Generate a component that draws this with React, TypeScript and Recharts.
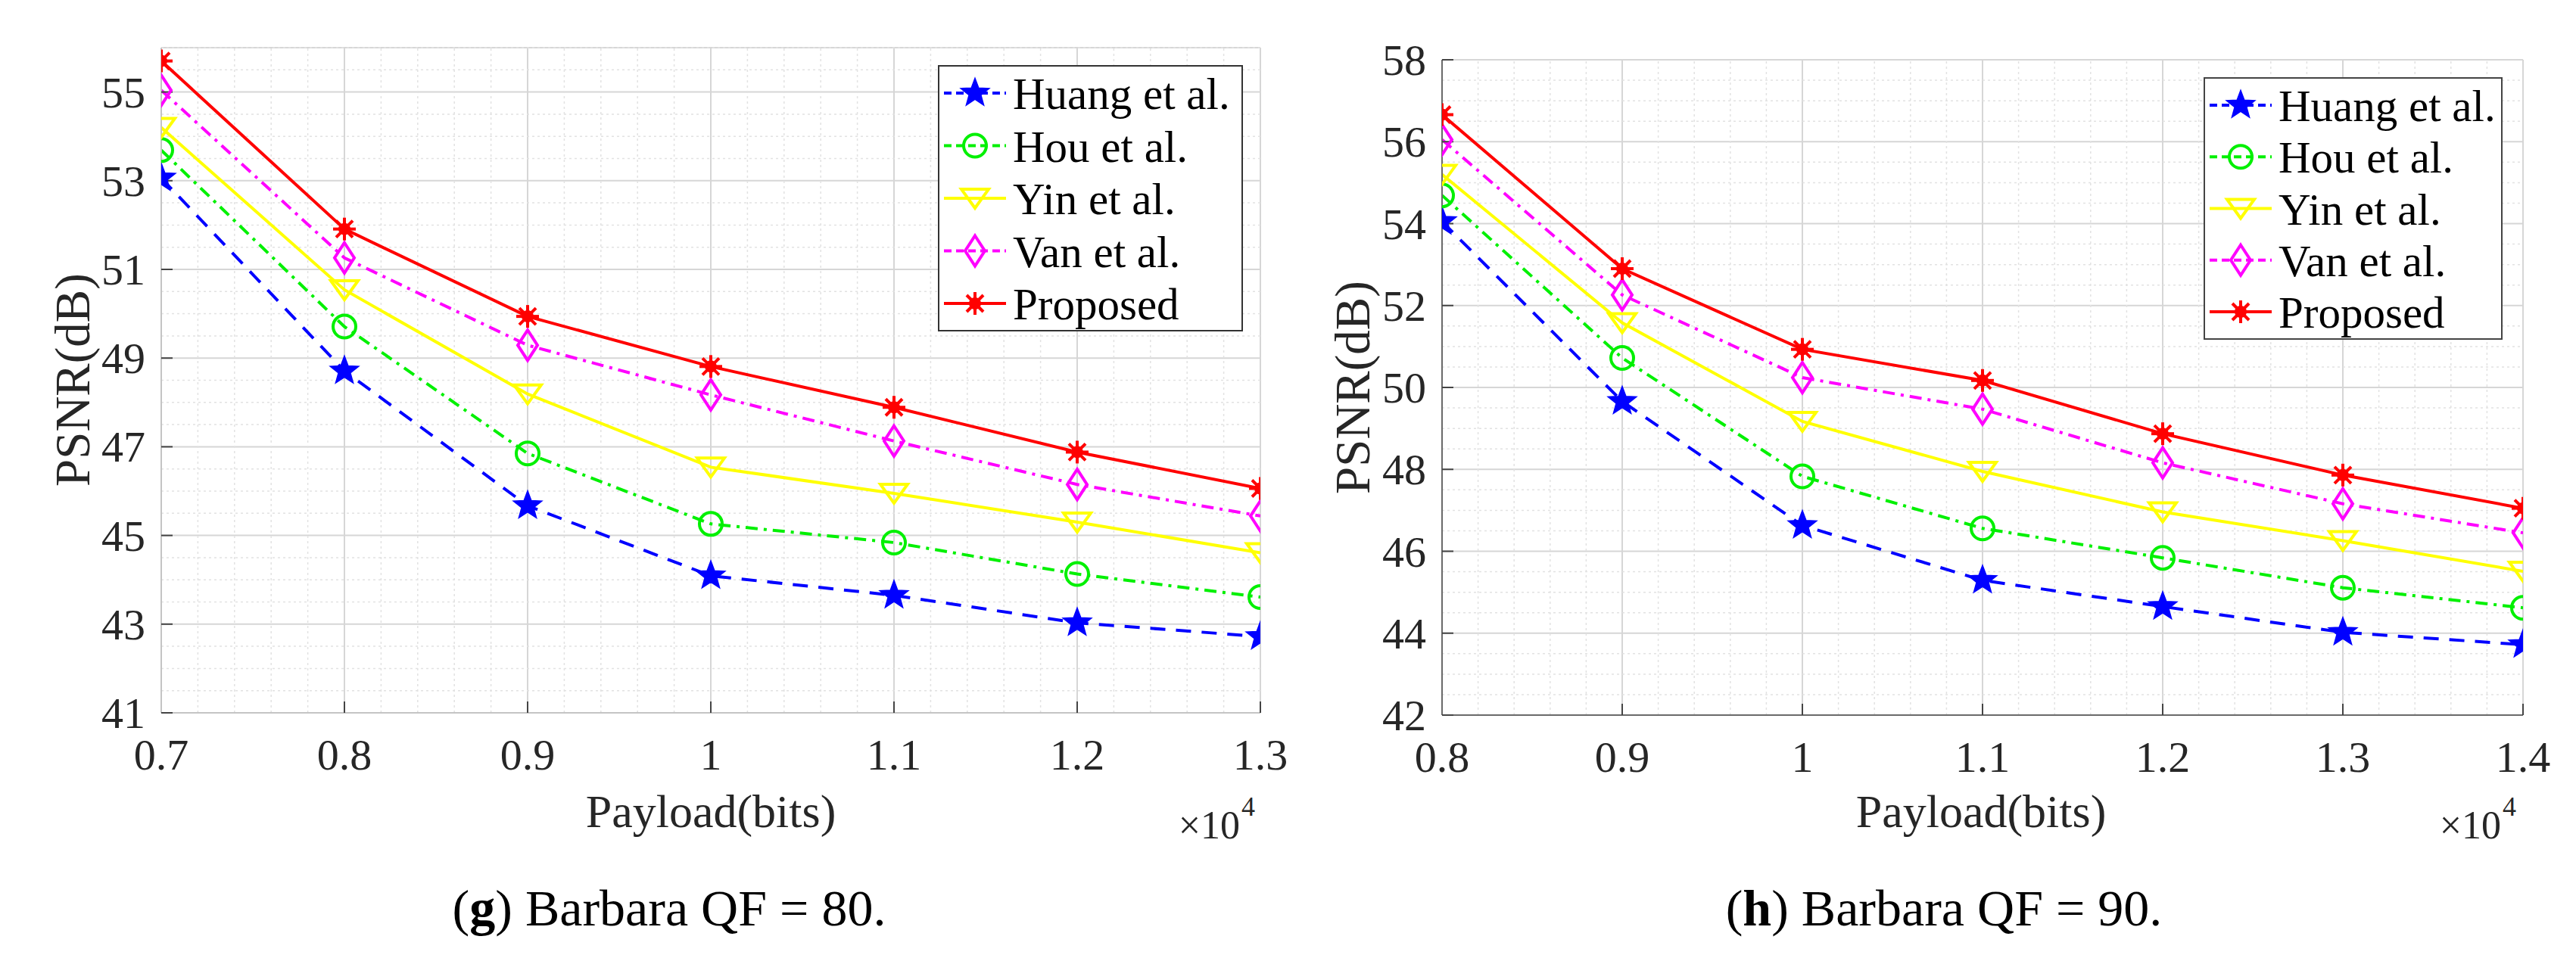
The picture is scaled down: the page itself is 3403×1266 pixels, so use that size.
import React from 'react';
import { LineChart, Line, XAxis, YAxis, CartesianGrid, ReferenceLine, Legend } from 'recharts';

const FONT = "'Liberation Serif', 'Times New Roman', serif";

// (g) Barbara QF = 80
const payload80 = [0.7, 0.8, 0.9, 1.0, 1.1, 1.2, 1.3];
const huang80 = [53.06, 48.71, 45.67, 44.09, 43.65, 43.03, 42.72];
const hou80 = [53.69, 49.71, 46.85, 45.26, 44.84, 44.13, 43.61];
const yin80 = [54.2, 50.54, 48.19, 46.54, 45.95, 45.3, 44.61];
const van80 = [55.04, 51.26, 49.29, 48.17, 47.13, 46.15, 45.44];
const proposed80 = [55.7, 51.91, 49.94, 48.81, 47.89, 46.88, 46.06];
const xTicks80 = [0.7, 0.8, 0.9, 1.0, 1.1, 1.2, 1.3];
const yTicks80 = [41, 43, 45, 47, 49, 51, 53, 55];

// (h) Barbara QF = 90
const payload90 = [0.8, 0.9, 1.0, 1.1, 1.2, 1.3, 1.4];
const huang90 = [54.05, 49.66, 46.63, 45.29, 44.65, 44.02, 43.72];
const hou90 = [54.69, 50.72, 47.83, 46.56, 45.84, 45.11, 44.62];
const yin90 = [55.2, 51.58, 49.17, 47.95, 46.96, 46.26, 45.51];
const van90 = [56.05, 52.26, 50.24, 49.47, 48.16, 47.16, 46.45];
const proposed90 = [56.66, 52.9, 50.93, 50.17, 48.87, 47.86, 47.05];
const xTicks90 = [0.8, 0.9, 1.0, 1.1, 1.2, 1.3, 1.4];
const yTicks90 = [42, 44, 46, 48, 50, 52, 54, 56, 58];

const SERIES = [
  { key: 'huang', name: 'Huang et al.', color: '#0000ff', dash: '20 14', marker: 'star' },
  { key: 'hou', name: 'Hou et al.', color: '#00f000', dash: '16 8 4 8', marker: 'circle' },
  { key: 'yin', name: 'Yin et al.', color: '#ffff00', dash: undefined, marker: 'tri' },
  { key: 'van', name: 'Van et al.', color: '#ff00ff', dash: '16 8 4 8', marker: 'diamond' },
  { key: 'proposed', name: 'Proposed', color: '#ff0000', dash: undefined, marker: 'asterisk' },
];

function buildRows(payload: number[], cols: Record<string, number[]>) {
  return payload.map((p, i) => {
    const row: Record<string, number> = { payload: p };
    Object.keys(cols).forEach((k) => (row[k] = cols[k][i]));
    return row;
  });
}

const rows80 = buildRows(payload80, { huang: huang80, hou: hou80, yin: yin80, van: van80, proposed: proposed80 });
const rows90 = buildRows(payload90, { huang: huang90, hou: hou90, yin: yin90, van: van90, proposed: proposed90 });

// minor grid positions (MATLAB minor grid)
function steps(from: number, to: number, step: number) {
  const out: number[] = [];
  for (let v = from; v <= to + 1e-9; v += step) out.push(Math.round(v * 1000) / 1000);
  return out;
}
const isMajorX = (v: number) => Math.abs(v * 10 - Math.round(v * 10)) < 1e-6;

function Marker({ kind, cx, cy, color }: { kind: string; cx: number; cy: number; color: string }) {
  if (kind === 'star') {
    const pts: string[] = [];
    for (let i = 0; i < 10; i++) {
      const r = i % 2 === 0 ? 19 : 8;
      const a = -Math.PI / 2 + (i * Math.PI) / 5;
      pts.push(`${cx + r * Math.cos(a)},${cy + r * Math.sin(a)}`);
    }
    return <polygon points={pts.join(' ')} fill={color} stroke={color} strokeWidth={2} />;
  }
  if (kind === 'circle') return <circle cx={cx} cy={cy} r={15} fill="none" stroke={color} strokeWidth={4} />;
  if (kind === 'tri')
    return (
      <polygon
        points={`${cx - 18},${cy - 12} ${cx + 18},${cy - 12} ${cx},${cy + 13}`}
        fill="none"
        stroke={color}
        strokeWidth={4}
      />
    );
  if (kind === 'diamond')
    return (
      <polygon
        points={`${cx},${cy - 20} ${cx + 13},${cy} ${cx},${cy + 20} ${cx - 13},${cy}`}
        fill="none"
        stroke={color}
        strokeWidth={4}
      />
    );
  const d = 15;
  const e = 11;
  return (
    <g stroke={color} strokeWidth={4}>
      <line x1={cx - d} y1={cy} x2={cx + d} y2={cy} />
      <line x1={cx} y1={cy - d} x2={cx} y2={cy + d} />
      <line x1={cx - e} y1={cy - e} x2={cx + e} y2={cy + e} />
      <line x1={cx - e} y1={cy + e} x2={cx + e} y2={cy - e} />
      <circle cx={cx} cy={cy} r={6} fill={color} />
    </g>
  );
}

function LegendBox({ w, h, border }: { w: number; h: number; border: string }) {
  const top = 37;
  const gap = (h - 2 * top) / 4;
  return (
    <svg width={w} height={h} style={{ display: 'block' }}>
      <rect x={1} y={1} width={w - 2} height={h - 2} fill="#fff" stroke={border} strokeWidth={2} />
      {SERIES.map((s, i) => {
        const y = top + i * gap;
        return (
          <g key={s.key}>
            <line x1={8} x2={90} y1={y} y2={y} stroke={s.color} strokeWidth={4} strokeDasharray={s.dash ? '10 6' : undefined} />
            <Marker kind={s.marker} cx={49} cy={y} color={s.color} />
            <text x={99} y={y + 21} style={{ fontFamily: FONT, fontSize: 59 }} fill="#000">
              {s.name}
            </text>
          </g>
        );
      })}
    </svg>
  );
}

const H = 1266;
const YW = 100;
const XH = 80;
const fmt = (v: number) => String(Math.round(v * 10) / 10);
const TICK_FONT = { fontFamily: FONT, fontSize: 58 };

function XTick({ x, y, payload }: any) {
  return (
    <text x={x} y={y + 40} textAnchor="middle" fill="#262626" style={TICK_FONT}>
      {fmt(payload.value)}
    </text>
  );
}

function YTick({ x, y, payload }: any) {
  return (
    <text x={x} y={y + 20} textAnchor="end" fill="#262626" style={TICK_FONT}>
      {fmt(payload.value)}
    </text>
  );
}

type PanelProps = {
  left: number;
  width: number;
  plot: { l: number; r: number; t: number; b: number };
  rows: Record<string, number>[];
  xDomain: [number, number];
  xTicks: number[];
  yDomain: [number, number];
  yTicks: number[];
  near: string;
  far: string;
  legend: { x: number; y: number; w: number; h: number; border: string };
};

function Panel({ left, width, plot, rows, xDomain, xTicks, yDomain, yTicks, near, far, legend }: PanelProps) {
  const margin = { top: plot.t, left: plot.l - YW, right: width - plot.r, bottom: H - plot.b - XH };
  const minorX = steps(xDomain[0], xDomain[1], 0.02).filter((v) => !isMajorX(v));
  const minorY = steps(yDomain[0], yDomain[1], 0.5).filter((v) => !yTicks.includes(v));
  const tickLine = { stroke: '#444', strokeWidth: 2 };
  return (
    <div style={{ position: 'absolute', left, top: 0 }}>
      <LineChart width={width} height={H} data={rows} margin={margin} style={{ fontFamily: FONT }}>
        {minorX.map((v) => (
          <ReferenceLine key={'mx' + v} x={v} stroke="#e2e2e2" strokeWidth={1.5} strokeDasharray="3 4" />
        ))}
        {minorY.map((v) => (
          <ReferenceLine key={'my' + v} y={v} stroke="#e2e2e2" strokeWidth={1.5} strokeDasharray="3 4" />
        ))}
        <CartesianGrid stroke="#d6d6d6" strokeWidth={2} />
        <XAxis
          dataKey="payload"
          type="number"
          domain={xDomain}
          ticks={xTicks}
          interval={0}
          allowDataOverflow
          tick={<XTick />}
          tickSize={-15}
          tickMargin={50}
          height={XH}
          axisLine={{ stroke: near, strokeWidth: 2 }}
          tickLine={tickLine}
        />
        <XAxis
          xAxisId="top"
          orientation="top"
          dataKey="payload"
          type="number"
          domain={xDomain}
          ticks={xTicks}
          interval={0}
          allowDataOverflow
          tick={false}
          tickSize={-15}
          height={0}
          axisLine={{ stroke: far, strokeWidth: 2 }}
          tickLine={tickLine}
        />
        <YAxis
          type="number"
          domain={yDomain}
          ticks={yTicks}
          interval={0}
          allowDataOverflow
          tick={<YTick />}
          tickSize={-15}
          tickMargin={36}
          width={YW}
          axisLine={{ stroke: near, strokeWidth: 2 }}
          tickLine={tickLine}
        />
        <YAxis
          yAxisId="right"
          orientation="right"
          type="number"
          domain={yDomain}
          ticks={yTicks}
          interval={0}
          allowDataOverflow
          tick={false}
          tickSize={-15}
          width={0}
          axisLine={{ stroke: far, strokeWidth: 2 }}
          tickLine={tickLine}
        />
        {SERIES.map((s) => (
          <Line
            key={s.key}
            type="linear"
            dataKey={s.key}
            name={s.name}
            stroke={s.color}
            strokeWidth={4}
            strokeDasharray={s.dash}
            dot={(p: any) => <Marker key={s.key + p.index} kind={s.marker} cx={p.cx} cy={p.cy} color={s.color} />}
            activeDot={false}
            isAnimationActive={false}
          />
        ))}
        <Legend
          layout="vertical"
          align="center"
          verticalAlign="middle"
          wrapperStyle={{ left: legend.x, top: legend.y, width: legend.w, height: legend.h }}
          content={() => <LegendBox w={legend.w} h={legend.h} border={legend.border} />}
        />
      </LineChart>
    </div>
  );
}

function Titles() {
  const t = { fontFamily: FONT };
  const panels = [
    { yl: [96, 502], xl: [939, 1093], exp: 1662, cap: [884, 1223], letter: 'g', qf: '80' },
    { yl: [1787, 512], xl: [2617, 1093], exp: 3328, cap: [2568, 1223], letter: 'h', qf: '90' },
  ];
  return (
    <svg width={3403} height={1266} style={{ position: 'absolute', left: 0, top: 0, pointerEvents: 'none' }}>
      {panels.map((p) => (
        <g key={p.letter}>
          <text
            style={{ ...t, fontSize: 65 }}
            fill="#262626"
            textAnchor="middle"
            transform={`translate(${p.yl[0] + 22},${p.yl[1]}) rotate(-90)`}
          >
            PSNR(dB)
          </text>
          <text style={{ ...t, fontSize: 62 }} fill="#262626" x={p.xl[0]} y={p.xl[1]} textAnchor="middle">
            Payload(bits)
          </text>
          <text style={{ ...t, fontSize: 52 }} fill="#262626" x={p.exp - 24} y={1108} textAnchor="end">
            ×10
          </text>
          <text style={{ ...t, fontSize: 36 }} fill="#262626" x={p.exp - 22} y={1078} textAnchor="start">
            4
          </text>
          <text style={{ ...t, fontSize: 68 }} fill="#000" x={p.cap[0]} y={p.cap[1]} textAnchor="middle">
            (<tspan fontWeight="bold">{p.letter}</tspan>) Barbara QF = {p.qf}.
          </text>
        </g>
      ))}
    </svg>
  );
}

export default function App() {
  return (
    <div
      style={{
        position: 'absolute',
        left: 0,
        top: 0,
        width: 3403,
        height: 1266,
        background: '#fff',
        fontFamily: FONT,
      }}
    >
      <Panel
        left={0}
        width={1700}
        plot={{ l: 213, r: 1665, t: 63, b: 942 }}
        rows={rows80}
        xDomain={[0.7, 1.3]}
        xTicks={xTicks80}
        yDomain={[41, 56]}
        yTicks={yTicks80}
        near="#c4c4c4"
        far="#2a2a2a"
        legend={{ x: 1239, y: 86, w: 403, h: 352, border: '#333' }}
      />
      <Panel
        left={1700}
        width={1703}
        plot={{ l: 205, r: 1633, t: 79, b: 945 }}
        rows={rows90}
        xDomain={[0.8, 1.4]}
        xTicks={xTicks90}
        yDomain={[42, 58]}
        yTicks={yTicks90}
        near="#6a6a6a"
        far="#c4c4c4"
        legend={{ x: 1211, y: 102, w: 395, h: 347, border: '#444' }}
      />
      <Titles />
    </div>
  );
}
